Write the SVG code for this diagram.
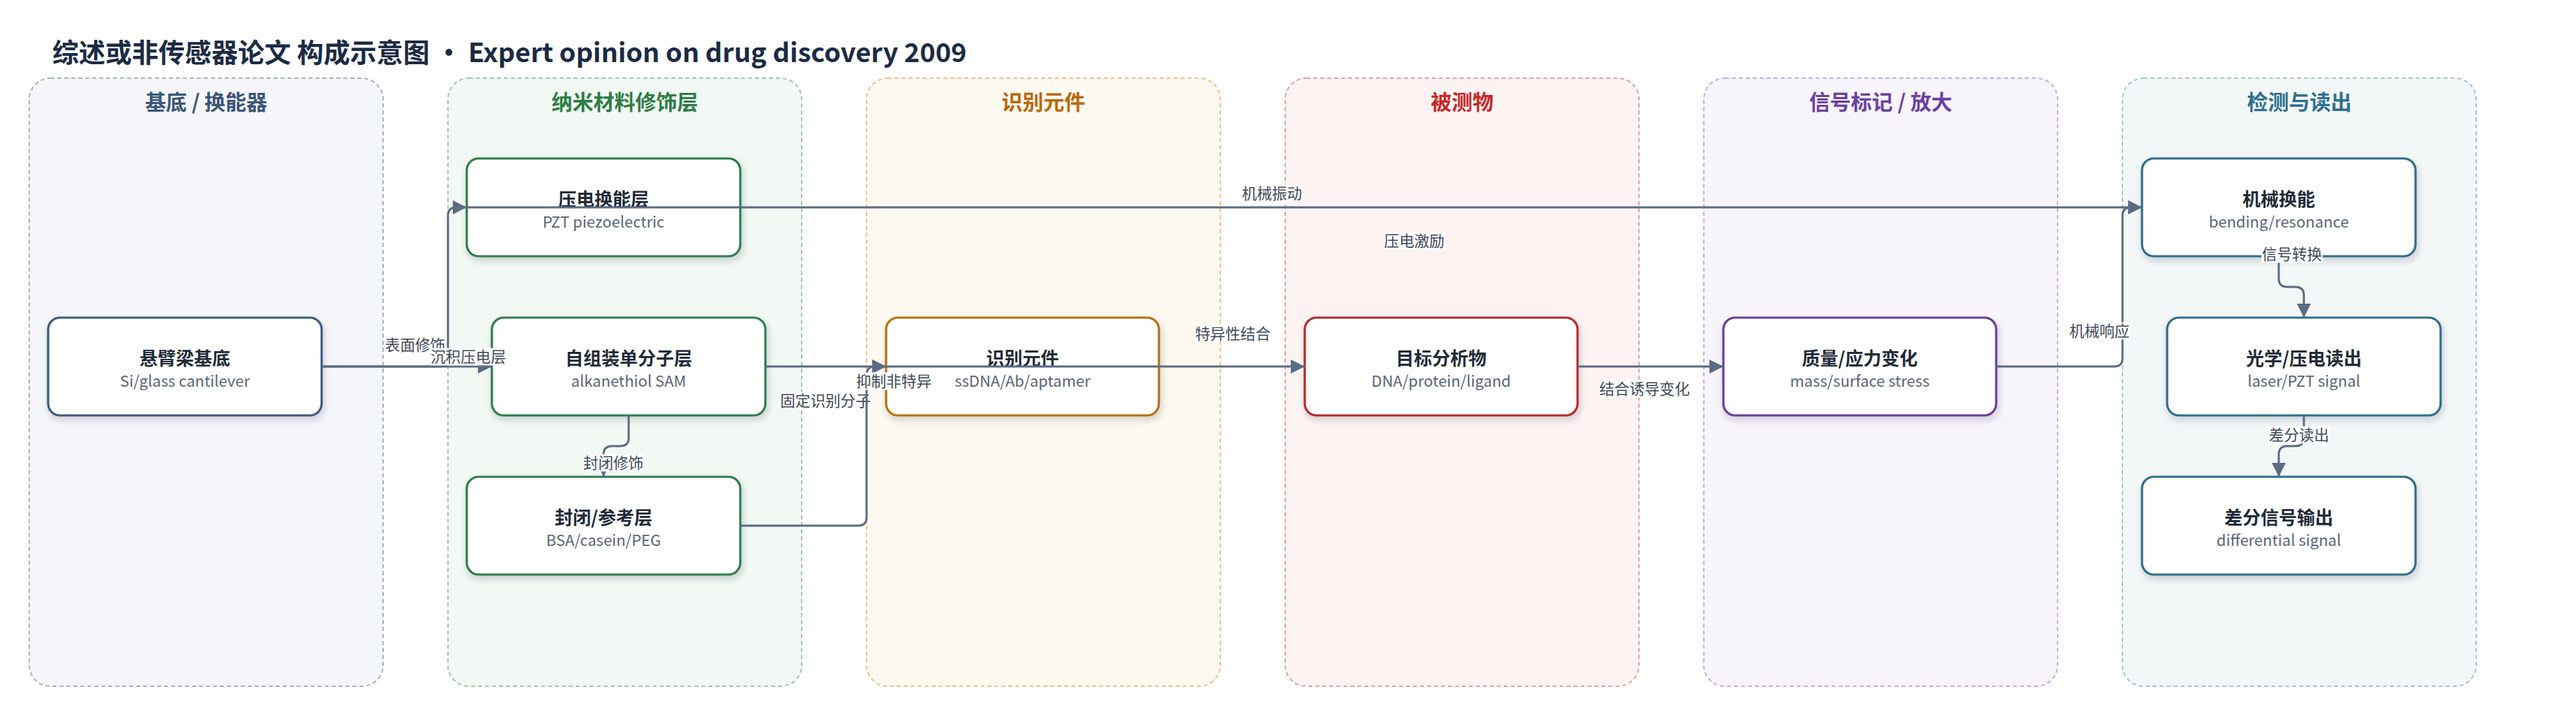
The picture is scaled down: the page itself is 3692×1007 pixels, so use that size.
<svg xmlns="http://www.w3.org/2000/svg" width="3692" height="1007" viewBox="0 0 3692 1007">
<defs>
<style>
text{font-family:"Noto Sans CJK SC","Noto Sans",sans-serif}
.title{font-size:38px;font-weight:bold;fill:#1b2b45}
.lane{stroke-width:2;stroke-dasharray:6 4}
.ll{font-size:30px;font-weight:bold;text-anchor:middle}
.box{fill:#fff;stroke-width:3.2;filter:url(#sh)}
.nt{font-size:26px;font-weight:bold;fill:#1f2a37;text-anchor:middle}
.ns{font-size:22px;fill:#5b6576;text-anchor:middle}
.edge{fill:none;stroke:#5b6b82;stroke-width:3;marker-end:url(#ar)}
.el{font-size:21.6px;fill:#3e4857;text-anchor:middle}
.bg{fill:#fff;opacity:0.92}
</style>
<marker id="ar" markerUnits="userSpaceOnUse" markerWidth="20" markerHeight="20" refX="20" refY="10" orient="auto"><path d="M0,0 L20,10 L0,20 z" fill="#5b6b82"/></marker>
<filter id="sh" x="-10%" y="-15%" width="125%" height="140%"><feDropShadow dx="2" dy="5" stdDeviation="5" flood-color="#1e293b" flood-opacity="0.2"/></filter>
</defs>
<rect width="3692" height="1007" fill="#fff"/>
<text class="title" x="75" y="89">综述或非传感器论文 构成示意图 • Expert opinion on drug discovery 2009</text>

<g id="lanes">
<g id="lane-substrate"><rect class="lane" x="42" y="112" width="507" height="871" rx="30" fill="#f5f6fa" stroke="#a7b3c6"/><text class="ll" x="295.5" y="157" fill="#3b5578">基底 / 换能器</text></g>
<g id="lane-nano"><rect class="lane" x="642" y="112" width="507" height="871" rx="30" fill="#f2f8f4" stroke="#9fc9ab"/><text class="ll" x="895.5" y="157" fill="#2e7d46">纳米材料修饰层</text></g>
<g id="lane-recog"><rect class="lane" x="1242" y="112" width="507" height="871" rx="30" fill="#fdf9f1" stroke="#e7c48a"/><text class="ll" x="1495.5" y="157" fill="#b8690b">识别元件</text></g>
<g id="lane-analyte"><rect class="lane" x="1842" y="112" width="507" height="871" rx="30" fill="#fdf3f3" stroke="#e6a1a1"/><text class="ll" x="2095.5" y="157" fill="#c62828">被测物</text></g>
<g id="lane-signal"><rect class="lane" x="2442" y="112" width="507" height="871" rx="30" fill="#f7f4fb" stroke="#c8addf"/><text class="ll" x="2695.5" y="157" fill="#6b3fa0">信号标记 / 放大</text></g>
<g id="lane-readout"><rect class="lane" x="3042" y="112" width="507" height="871" rx="30" fill="#f3f7f8" stroke="#a7c5cf"/><text class="ll" x="3295.5" y="157" fill="#2e6f8e">检测与读出</text></g>
</g>

<g id="nodes">
<g id="n1"><rect class="box" x="69" y="455" width="392" height="140" rx="17" stroke="#3e5a7e"/><text class="nt" x="265" y="523">悬臂梁基底</text><text class="ns" x="265" y="554">Si/glass cantilever</text></g>
<g id="n2"><rect class="box" x="669" y="227" width="392" height="140" rx="17" stroke="#2e7d4f"/><text class="nt" x="865" y="295">压电换能层</text><text class="ns" x="865" y="326">PZT piezoelectric</text></g>
<g id="n3"><rect class="box" x="705" y="455" width="392" height="140" rx="17" stroke="#2e7d4f"/><text class="nt" x="901" y="523">自组装单分子层</text><text class="ns" x="901" y="554">alkanethiol SAM</text></g>
<g id="n4"><rect class="box" x="669" y="683" width="392" height="140" rx="17" stroke="#2e7d4f"/><text class="nt" x="865" y="751">封闭/参考层</text><text class="ns" x="865" y="782">BSA/casein/PEG</text></g>
<g id="n5"><rect class="box" x="1270" y="455" width="391" height="140" rx="17" stroke="#b5700f"/><text class="nt" x="1465.5" y="523">识别元件</text><text class="ns" x="1465.5" y="554">ssDNA/Ab/aptamer</text></g>
<g id="n6"><rect class="box" x="1870" y="455" width="391" height="140" rx="17" stroke="#b52a2a"/><text class="nt" x="2065.5" y="523">目标分析物</text><text class="ns" x="2065.5" y="554">DNA/protein/ligand</text></g>
<g id="n7"><rect class="box" x="2470" y="455" width="391" height="140" rx="17" stroke="#6a3d9a"/><text class="nt" x="2665.5" y="523">质量/应力变化</text><text class="ns" x="2665.5" y="554">mass/surface stress</text></g>
<g id="n8"><rect class="box" x="3070" y="227" width="392" height="140" rx="17" stroke="#2f6e8a"/><text class="nt" x="3266" y="295">机械换能</text><text class="ns" x="3266" y="326">bending/resonance</text></g>
<g id="n9"><rect class="box" x="3106" y="455" width="392" height="140" rx="17" stroke="#2f6e8a"/><text class="nt" x="3302" y="523">光学/压电读出</text><text class="ns" x="3302" y="554">laser/PZT signal</text></g>
<g id="n10"><rect class="box" x="3070" y="683" width="392" height="140" rx="17" stroke="#2f6e8a"/><text class="nt" x="3266" y="751">差分信号输出</text><text class="ns" x="3266" y="782">differential signal</text></g>
</g>

<g id="connectors">
<g id="e1"><path class="edge" d="M461,525 L705,525"/><rect class="bg" x="551" y="481.5" width="88" height="25"/><text class="el" x="595" y="502">表面修饰</text></g>
<g id="e2"><path class="edge" d="M461,525 L630,525 Q642,525 642,513 L642,309 Q642,297 654,297 L669,297"/><rect class="bg" x="616" y="498.5" width="110" height="25"/><text class="el" x="671" y="519">沉积压电层</text></g>
<g id="e11"><path class="edge" d="M901,595 L901,627 Q901,639 889,639 L877,639 Q865,639 865,651 L865,683"/><rect class="bg" x="835" y="650.5" width="88" height="25"/><text class="el" x="879" y="671">封闭修饰</text></g>
<g id="e3"><path class="edge" d="M1097,525 L1270,525"/><rect class="bg" x="1117" y="561.5" width="132" height="25"/><text class="el" x="1183" y="582">固定识别分子</text></g>
<g id="e4"><path class="edge" d="M1061,753 L1230,753 Q1242,753 1242,741 L1242,537 Q1242,525 1254,525 L1270,525"/><rect class="bg" x="1226" y="533.5" width="110" height="25"/><text class="el" x="1281" y="554">抑制非特异</text></g>
<g id="e5"><path class="edge" d="M1270,525 L1870,525"/><rect class="bg" x="1712" y="465.5" width="110" height="25"/><text class="el" x="1767" y="486">特异性结合</text></g>
<g id="e6"><path class="edge" d="M669,297 L3070,297"/><rect class="bg" x="1779" y="264.5" width="88" height="25"/><text class="el" x="1823" y="285">机械振动</text><rect class="bg" x="1983" y="332.5" width="88" height="25"/><text class="el" x="2027" y="353">压电激励</text></g>
<g id="e7"><path class="edge" d="M2261,525 L2470,525"/><rect class="bg" x="2291" y="544.5" width="132" height="25"/><text class="el" x="2357" y="565">结合诱导变化</text></g>
<g id="e8"><path class="edge" d="M2861,525 L3030,525 Q3042,525 3042,513 L3042,309 Q3042,297 3054,297 L3070,297"/><rect class="bg" x="2965" y="461.5" width="88" height="25"/><text class="el" x="3009" y="482">机械响应</text></g>
<g id="e9"><path class="edge" d="M3266,367 L3266,399 Q3266,411 3278,411 L3290,411 Q3302,411 3302,423 L3302,455"/><rect class="bg" x="3241" y="351.5" width="88" height="25"/><text class="el" x="3285" y="372">信号转换</text></g>
<g id="e10"><path class="edge" d="M3302,595 L3302,627 Q3302,639 3290,639 L3278,639 Q3266,639 3266,651 L3266,683"/><rect class="bg" x="3251" y="610.5" width="88" height="25"/><text class="el" x="3295" y="631">差分读出</text></g>
</g>
</svg>
